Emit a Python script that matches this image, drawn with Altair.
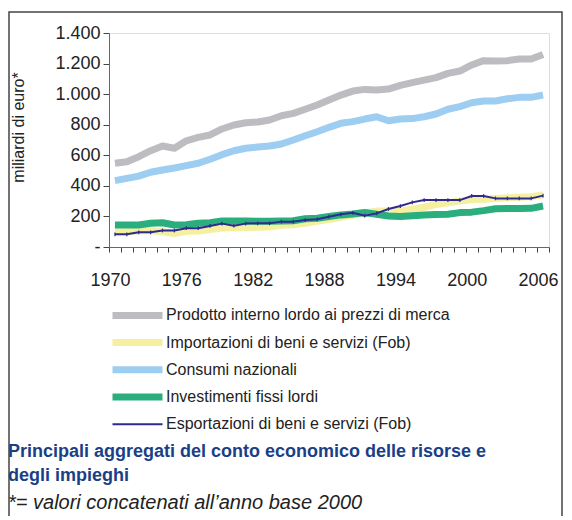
import altair as alt
import pandas as pd

years = list(range(1970, 2007))
pil = [548, 558, 591, 630, 661, 646, 695, 717, 733, 772, 798, 813, 818, 831, 859, 874, 901, 929, 962, 994,
       1020, 1031, 1027, 1033, 1057, 1075, 1092, 1108, 1136, 1151, 1191, 1219, 1217, 1219, 1230, 1230, 1260]
importazioni = [100, 100, 106, 106, 100, 88, 103, 104, 114, 124, 126, 127, 130, 131, 142, 145, 155, 168, 180, 195,
                208, 222, 235, 236, 236, 248, 260, 278, 290, 300, 310, 313, 318, 322, 325, 328, 342]
consumi = [434, 449, 464, 489, 504, 517, 532, 548, 574, 604, 630, 646, 654, 661, 674, 700, 728, 754, 783, 809,
           820, 837, 852, 826, 837, 840, 852, 870, 901, 918, 944, 955, 955, 970, 979, 979, 994]
investimenti = [144, 144, 144, 155, 159, 144, 146, 155, 159, 170, 170, 170, 168, 168, 170, 172, 185, 188, 200, 210,
                216, 226, 214, 203, 200, 205, 210, 213, 214, 225, 228, 238, 250, 252, 252, 253, 268]
esportazioni = [83, 83, 96, 96, 108, 108, 123, 123, 138, 153, 139, 153, 155, 155, 166, 166, 176, 181, 198, 214,
                224, 205, 220, 249, 268, 292, 307, 307, 307, 307, 334, 334, 318, 318, 318, 318, 336]

serie = ["Prodotto interno lordo ai prezzi di merca",
         "Importazioni di beni e servizi (Fob)",
         "Consumi nazionali",
         "Investimenti  fissi  lordi",
         "Esportazioni di beni e servizi (Fob)"]
colori = ["#bdbdc1", "#f4f0a0", "#9dcdf0", "#2bae7e", "#2e2a8e"]
spessori = [7, 7, 7, 7, 2]

y_ticks = [0, 200, 400, 600, 800, 1000, 1200, 1400]
x_bounds = [1969.5 + i for i in range(38)]

rows = []
for name, vals in zip(serie, [pil, importazioni, consumi, investimenti, esportazioni]):
    for yr, v in zip(years, vals):
        rows.append({"anno": yr, "valore": v, "serie": name})
df = pd.DataFrame(rows)

FONT = "Liberation Sans"

x_enc = alt.X("anno:Q",
              scale=alt.Scale(domain=[1969.5, 2006.5], nice=False, zero=False),
              axis=alt.Axis(values=x_bounds, title=None, grid=False,
                            labelExpr="(datum.value - 1969.5) % 6 == 0 ? toString(datum.value + 0.5) : ''",
                            labelOffset=1, labelOverlap=False, labelPadding=19, labelFlush=False,
                            tickSize=5, tickColor="#444", domainColor="#666",
                            labelFont=FONT, labelFontSize=18, labelColor="#222"))
y_enc = alt.Y("valore:Q",
              scale=alt.Scale(domain=[0, 1400], nice=False),
              axis=alt.Axis(values=y_ticks, grid=False,
                            labelExpr="datum.value == 0 ? '-\u00a0\u00a0' : replace(format(datum.value, ','), ',', '.')",
                            tickSize=6, tickColor="#444", domainColor="#666", labelPadding=3,
                            labelFont=FONT, labelFontSize=18, labelColor="#222",
                            title="miliardi di euro*", titleFont=FONT, titleFontSize=16,
                            titleFontWeight="normal", titleColor="#222",
                            titleX=-86, titleY=94, titleAngle=270, titleAlign="center",
                            titleBaseline="alphabetic"))

legend = alt.Legend(orient="none", legendX=0, legendY=270, title=None,
                    symbolType="stroke", symbolSize=2500, clipHeight=24.8, rowPadding=2.2,
                    labelFont=FONT, labelFontSize=16, labelColor="#222", labelOffset=0,
                    labelLimit=450, direction="vertical")

color_enc = alt.Color("serie:N", scale=alt.Scale(domain=serie, range=colori), legend=legend)
width_enc = alt.StrokeWidth("serie:N", scale=alt.Scale(type="ordinal", domain=serie, range=spessori), legend=legend)

layers = []
for name in serie:
    layers.append(
        alt.Chart(df).transform_filter(alt.datum.serie == name)
        .mark_line(strokeCap="butt", strokeJoin="round")
        .encode(x=x_enc, y=y_enc, color=color_enc, strokeWidth=width_enc)
    )

marker = (alt.Chart(df).transform_filter(alt.datum.serie == serie[4])
          .mark_point(shape="M0,-1L0,1", size=14, strokeWidth=1.2, color=colori[4], filled=False, opacity=1)
          .encode(x=x_enc, y=y_enc))

frame = alt.Chart(pd.DataFrame({"k": [0]})).mark_rect(
    fill=None, stroke="#444", strokeWidth=1.5
).encode(x=alt.value(-100), x2=alt.value(453), y=alt.value(-21), y2=alt.value(490))

chart = alt.layer(frame, *layers, marker).properties(
    width=440, height=214,
    autosize=alt.AutoSizeParams(type="none"),
    padding={"left": 101, "top": 25, "right": 15, "bottom": 269},
    title=alt.TitleParams(
        text=["Principali aggregati del conto economico delle risorse e", "degli impieghi"],
        subtitle="*= valori concatenati all\u2019anno base 2000",
        orient="bottom", anchor="start", frame="group", align="left",
        dx=-101, offset=-81,
        font=FONT, fontSize=18, fontWeight="bold", color="#1b3f86", lineHeight=24,
        subtitleFont=FONT, subtitleFontSize=20, subtitleFontStyle="italic",
        subtitleFontWeight="normal", subtitleColor="#222", subtitlePadding=8),
).configure_view(stroke=None).configure(background="white")

chart.save("out.html", embed_options={"renderer": "svg", "actions": False})
